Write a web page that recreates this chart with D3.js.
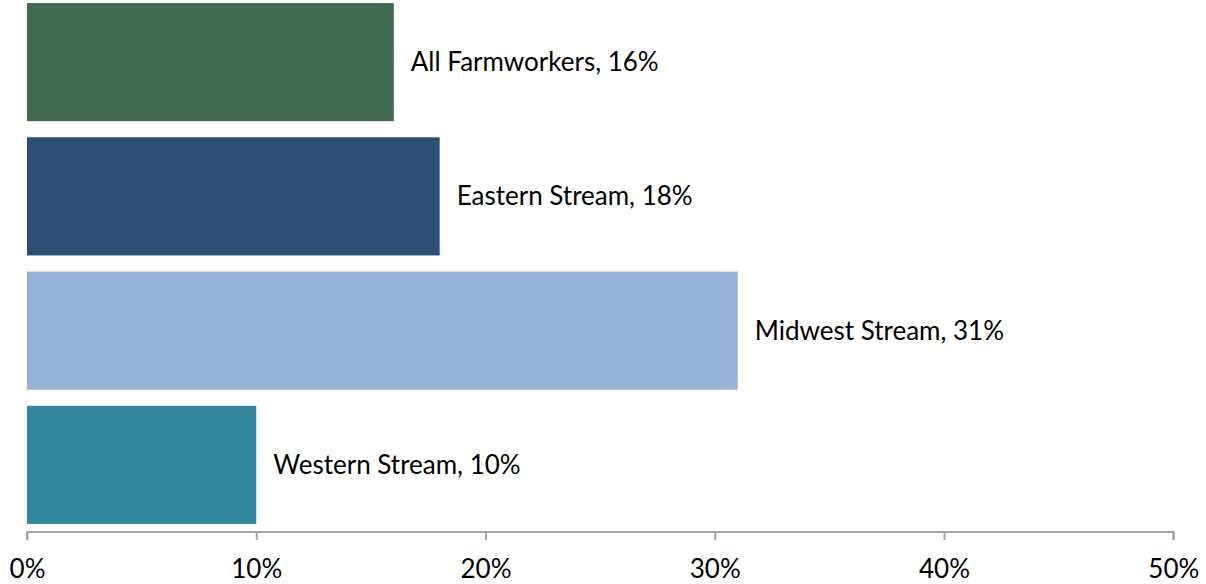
<!DOCTYPE html>
<html><head><meta charset="utf-8">
<script src="https://cdn.jsdelivr.net/npm/d3@7"></script>
<style>body{margin:0;background:#fff}svg{display:block}</style>
</head><body>
<svg id="c" width="1206" height="584"></svg>
<script>
const categories = ["All Farmworkers", "Eastern Stream", "Midwest Stream", "Western Stream"];
const values = [16, 18, 31, 10];
const colors = ["#406B4F", "#2E4F75", "#95B3D7", "#31859C"];
const tickValues = [0, 10, 20, 30, 40, 50];

const svg = d3.select("#c");
const font = "Lato, 'Open Sans', sans-serif";
const fs = 26;
const x = d3.scaleLinear().domain([0, 50]).range([27, 1173.3]);
const y = d3.scaleBand().domain(categories).range([-5, 532]).paddingInner(0.12).paddingOuter(0.06);
const axisY = 532;

svg.selectAll("rect.bar").data(categories).join("rect")
  .attr("class", "bar")
  .attr("x", x(0))
  .attr("y", d => y(d))
  .attr("width", (d, i) => x(values[i]) - x(0))
  .attr("height", y.bandwidth())
  .attr("fill", (d, i) => colors[i]);

svg.selectAll("text.lab").data(categories).join("text")
  .attr("class", "lab")
  .attr("x", (d, i) => x(values[i]) + 17)
  .attr("y", d => y(d) + y.bandwidth() / 2)
  .attr("dy", "0.35em")
  .attr("font-family", font)
  .attr("font-size", fs)
  .attr("fill", "#000")
  .text((d, i) => `${d}, ${values[i]}%`);

const axis = d3.axisBottom(x).tickValues(tickValues).tickFormat(d => d + "%").tickSize(8).tickPadding(20);
const g = svg.append("g").attr("transform", `translate(0,${axisY})`).call(axis);
g.select(".domain").attr("stroke", "#A6A6A6").attr("stroke-width", 2).attr("d", `M${x(0)},8V0H${x(50)}V8`);
g.selectAll(".tick line").attr("stroke", "#A6A6A6").attr("stroke-width", 2);
g.selectAll(".tick text").attr("font-family", font).attr("font-size", fs).attr("fill", "#000");
</script>
</body></html>
